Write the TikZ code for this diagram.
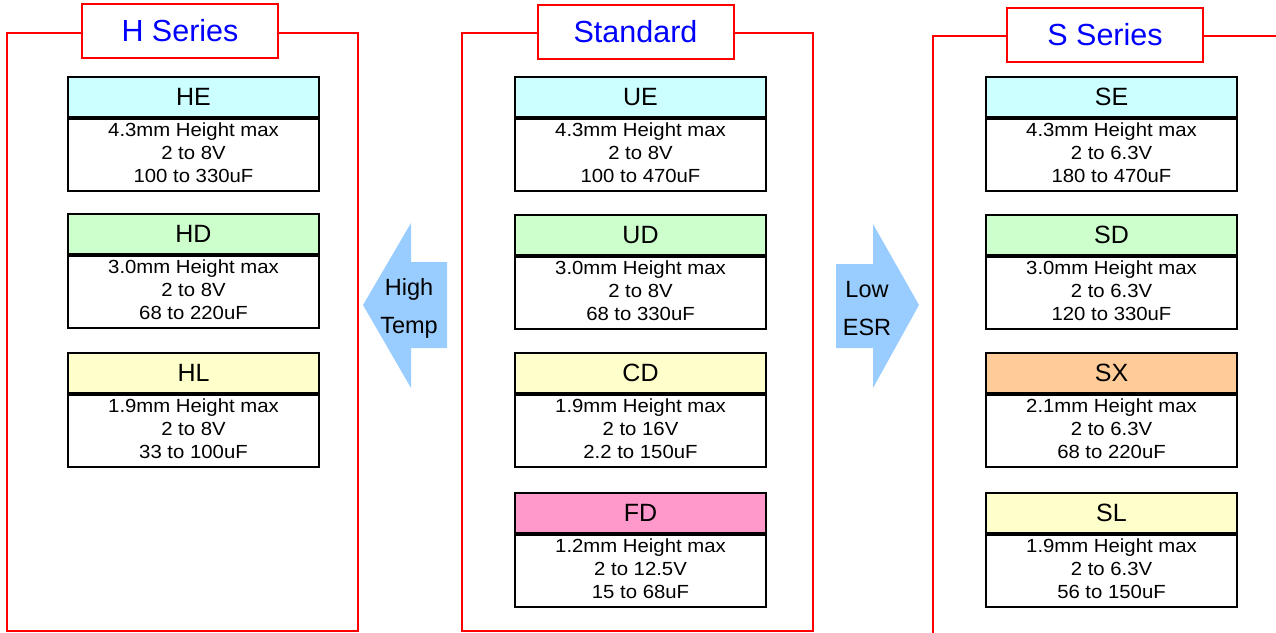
\documentclass[tikz,border=0pt]{standalone}
\usepackage{fontspec}
\setmainfont{Liberation Sans}
\newfontfamily\bodyf[FakeStretch=1.07]{Liberation Sans}
\definecolor{hcyan}{HTML}{CCFFFF}
\definecolor{hgreen}{HTML}{CCFFCC}
\definecolor{hyellow}{HTML}{FFFFCC}
\definecolor{hpink}{HTML}{FF99CC}
\definecolor{horange}{HTML}{FFCC99}
\definecolor{arrowblue}{HTML}{99CCFF}
\definecolor{framered}{HTML}{FF0000}
\definecolor{titleblue}{HTML}{0000FF}
\tikzset{
  frame/.style={draw=framered, line width=2pt},
  ttl/.style={draw=framered, line width=2pt, fill=white, text=titleblue, minimum width=196pt, minimum height=54pt, inner sep=0pt, font=\fontsize{30.5}{36}\selectfont},
  hdr/.style={draw=black, line width=2pt, minimum width=251pt, minimum height=40pt, inner sep=0pt, anchor=north west, font=\fontsize{25}{28}\selectfont},
  bdy/.style={draw=black, line width=2pt, fill=white, minimum width=251pt, minimum height=72pt, inner sep=0pt, anchor=north},
  bdytext/.style={align=center, inner sep=0pt, yshift=2.5pt, font=\bodyf\fontsize{19}{23}\selectfont},
  arrshape/.style={fill=arrowblue},
  arrtext/.style={align=center, inner sep=0pt, font=\fontsize{23.5}{38}\selectfont}
}
\newcommand{\capbox}[8]{%
  \node[hdr, fill=#4] (#1h) at (#2,#3) {#5};
  \node[bdy] (#1b) at (#1h.south) {};
  \node[bdytext] (#1t) at (#1b.center) {#6\\#7\\#8};
}
\begin{document}
\begin{tikzpicture}[x=1pt,y=-1pt]
\useasboundingbox (0,0) rectangle (1276,632);
\clip (0,0) rectangle (1276,632);
% frames
\draw[frame] (7,33) rectangle (358,631);
\draw[frame] (462,33) rectangle (813,631);
\draw[frame] (1285,36) -- (933,36) -- (933,640);
% titles
\node[ttl] (th) at (180,31) {H Series};
\node[ttl] (ts) at (635.5,32) {Standard};
\node[ttl] (tss) at (1105,35) {S Series};
% left column
\capbox{he}{67}{76}{hcyan}{HE}{4.3mm Height max}{2 to 8V}{100 to 330uF}
\capbox{hd}{67}{213}{hgreen}{HD}{3.0mm Height max}{2 to 8V}{68 to 220uF}
\capbox{hl}{67}{352}{hyellow}{HL}{1.9mm Height max}{2 to 8V}{33 to 100uF}
% middle column
\capbox{ue}{514}{76}{hcyan}{UE}{4.3mm Height max}{2 to 8V}{100 to 470uF}
\capbox{ud}{514}{214}{hgreen}{UD}{3.0mm Height max}{2 to 8V}{68 to 330uF}
\capbox{cd}{514}{352}{hyellow}{CD}{1.9mm Height max}{2 to 16V}{2.2 to 150uF}
\capbox{fd}{514}{492}{hpink}{FD}{1.2mm Height max}{2 to 12.5V}{15 to 68uF}
% right column
\capbox{se}{985}{76}{hcyan}{SE}{4.3mm Height max}{2 to 6.3V}{180 to 470uF}
\capbox{sd}{985}{214}{hgreen}{SD}{3.0mm Height max}{2 to 6.3V}{120 to 330uF}
\capbox{sx}{985}{352}{horange}{SX}{2.1mm Height max}{2 to 6.3V}{68 to 220uF}
\capbox{sl}{985}{492}{hyellow}{SL}{1.9mm Height max}{2 to 6.3V}{56 to 150uF}
% arrows
\fill[arrshape] (447,262) -- (411,262) -- (411,223) -- (363,305) -- (411,388) -- (411,348) -- (447,348) -- cycle;
\node[arrtext] (ht) at (409,308) {High\\Temp};
\fill[arrshape] (836,264) -- (873,264) -- (873,224) -- (919,305) -- (873,388) -- (873,348) -- (836,348) -- cycle;
\node[arrtext] (le) at (867,309) {Low\\ESR};
\end{tikzpicture}
\end{document}
